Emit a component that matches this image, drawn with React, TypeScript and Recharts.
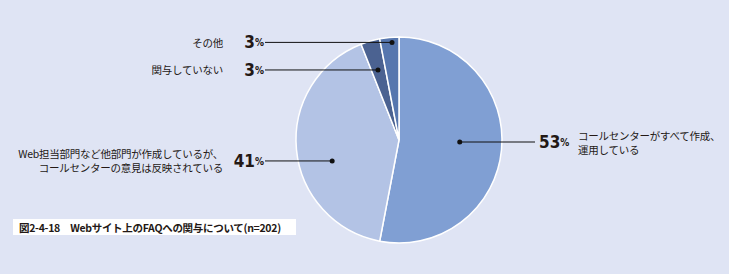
import { PieChart, Pie, Cell } from 'recharts';

const CATEGORIES = [
    ['コールセンターがすべて作成、', '運用している'],
    ['Web担当部門など他部門が作成しているが、', 'コールセンターの意見は反映されている'],
    ['関与していない'],
    ['その他'],
];
const SHARES = [53, 41, 3, 3];
const SLICE_COLORS = ['#809fd3', '#b3c3e5', '#4b6291', '#5676ae'];

const TITLE = '図2-4-18　Webサイト上のFAQへの関与について(n=202)';

// where each leader dot sits (polar, relative to the pie) and which side the text goes
const LABEL_LAYOUT = [
    { angle: -1.9, r: 0.59, side: 'right' },
    { angle: 197.4, r: 0.68, side: 'left' },
    { angle: 106.7, r: 0.71, side: 'left' },
    { angle: 94.1, r: 0.95, side: 'left' },
];

const TEXT = '#231815';
const JP_FONT = '"Noto Sans CJK JP", "Noto Sans", sans-serif';
const NUM_FONT = '"Liberation Sans Narrow", "DejaVu Sans Condensed", "Liberation Sans", sans-serif';

const data = CATEGORIES.map((lines, i) => ({ name: lines.join(''), lines, value: SHARES[i] }));

const RADIAN = Math.PI / 180;

function renderLabel(props: any) {
    const { cx, cy, outerRadius, index } = props;
    const item = data[index];
    const lay = LABEL_LAYOUT[index];
    const dx = cx + Math.cos(lay.angle * RADIAN) * outerRadius * lay.r;
    const dy = cy - Math.sin(lay.angle * RADIAN) * outerRadius * lay.r;
    const lineH = 14;
    const top = dy - ((item.lines.length - 1) * lineH) / 2;
    const textProps = { fill: TEXT, fontSize: 10.5, letterSpacing: -0.25, fontFamily: JP_FONT };

    if (lay.side === 'right') {
        const lineEnd = 535;
        const pctX = 539;
        const textX = 578;
        return (
            <g>
                <circle cx={dx} cy={dy} r={2.5} fill="#111" />
                <line x1={dx} y1={dy} x2={lineEnd} y2={dy} stroke="#111" strokeWidth={1} />
                <text x={pctX} y={dy} dominantBaseline="central" fill={TEXT} fontFamily={NUM_FONT}>
                    <tspan fontSize={17} fontWeight={700}>{item.value}</tspan>
                    <tspan fontSize={10} fontWeight={700}>%</tspan>
                </text>
                {item.lines.map((l: string, k: number) => (
                    <text key={k} x={textX} y={top + k * lineH} dominantBaseline="central" {...textProps}>
                        {l}
                    </text>
                ))}
            </g>
        );
    }

    const lineStart = 265;
    const pctEnd = 264;
    const textEnd = 223;
    return (
        <g>
            <circle cx={dx} cy={dy} r={2.5} fill="#111" />
            <line x1={lineStart} y1={dy} x2={dx} y2={dy} stroke="#111" strokeWidth={1} />
            <text x={pctEnd} y={dy} textAnchor="end" dominantBaseline="central" fill={TEXT} fontFamily={NUM_FONT}>
                <tspan fontSize={17} fontWeight={700}>{item.value}</tspan>
                <tspan fontSize={10} fontWeight={700}>%</tspan>
            </text>
            {item.lines.map((l: string, k: number) => (
                <text key={k} x={textEnd} y={top + k * lineH} textAnchor="end" dominantBaseline="central" {...textProps}>
                    {l}
                </text>
            ))}
        </g>
    );
}

export default function App() {
    return (
        <div style={{ width: 729, height: 274, background: '#dfe4f4', position: 'relative' }}>
            <style>{'body{margin:0}'}</style>
            <PieChart width={729} height={274} margin={{ top: 0, right: 0, bottom: 0, left: 0 }}>
                <rect x={13} y={219} width={283} height={16} fill="#ffffff" />
                <text x={19} y={227.5} dominantBaseline="central" fill={TEXT} fontSize={10.5} letterSpacing={-0.3} fontWeight={700} fontFamily={JP_FONT}>
                    {TITLE}
                </text>
                <Pie
                    data={data}
                    dataKey="value"
                    cx={399}
                    cy={140}
                    outerRadius={103}
                    startAngle={90}
                    endAngle={-270}
                    stroke="#ffffff"
                    strokeWidth={1.5}
                    label={renderLabel}
                    labelLine={false}
                    isAnimationActive={false}
                >
                    {data.map((entry, i) => (
                        <Cell key={`cell-${i}`} fill={SLICE_COLORS[i]} />
                    ))}
                </Pie>
            </PieChart>
        </div>
    );
}
